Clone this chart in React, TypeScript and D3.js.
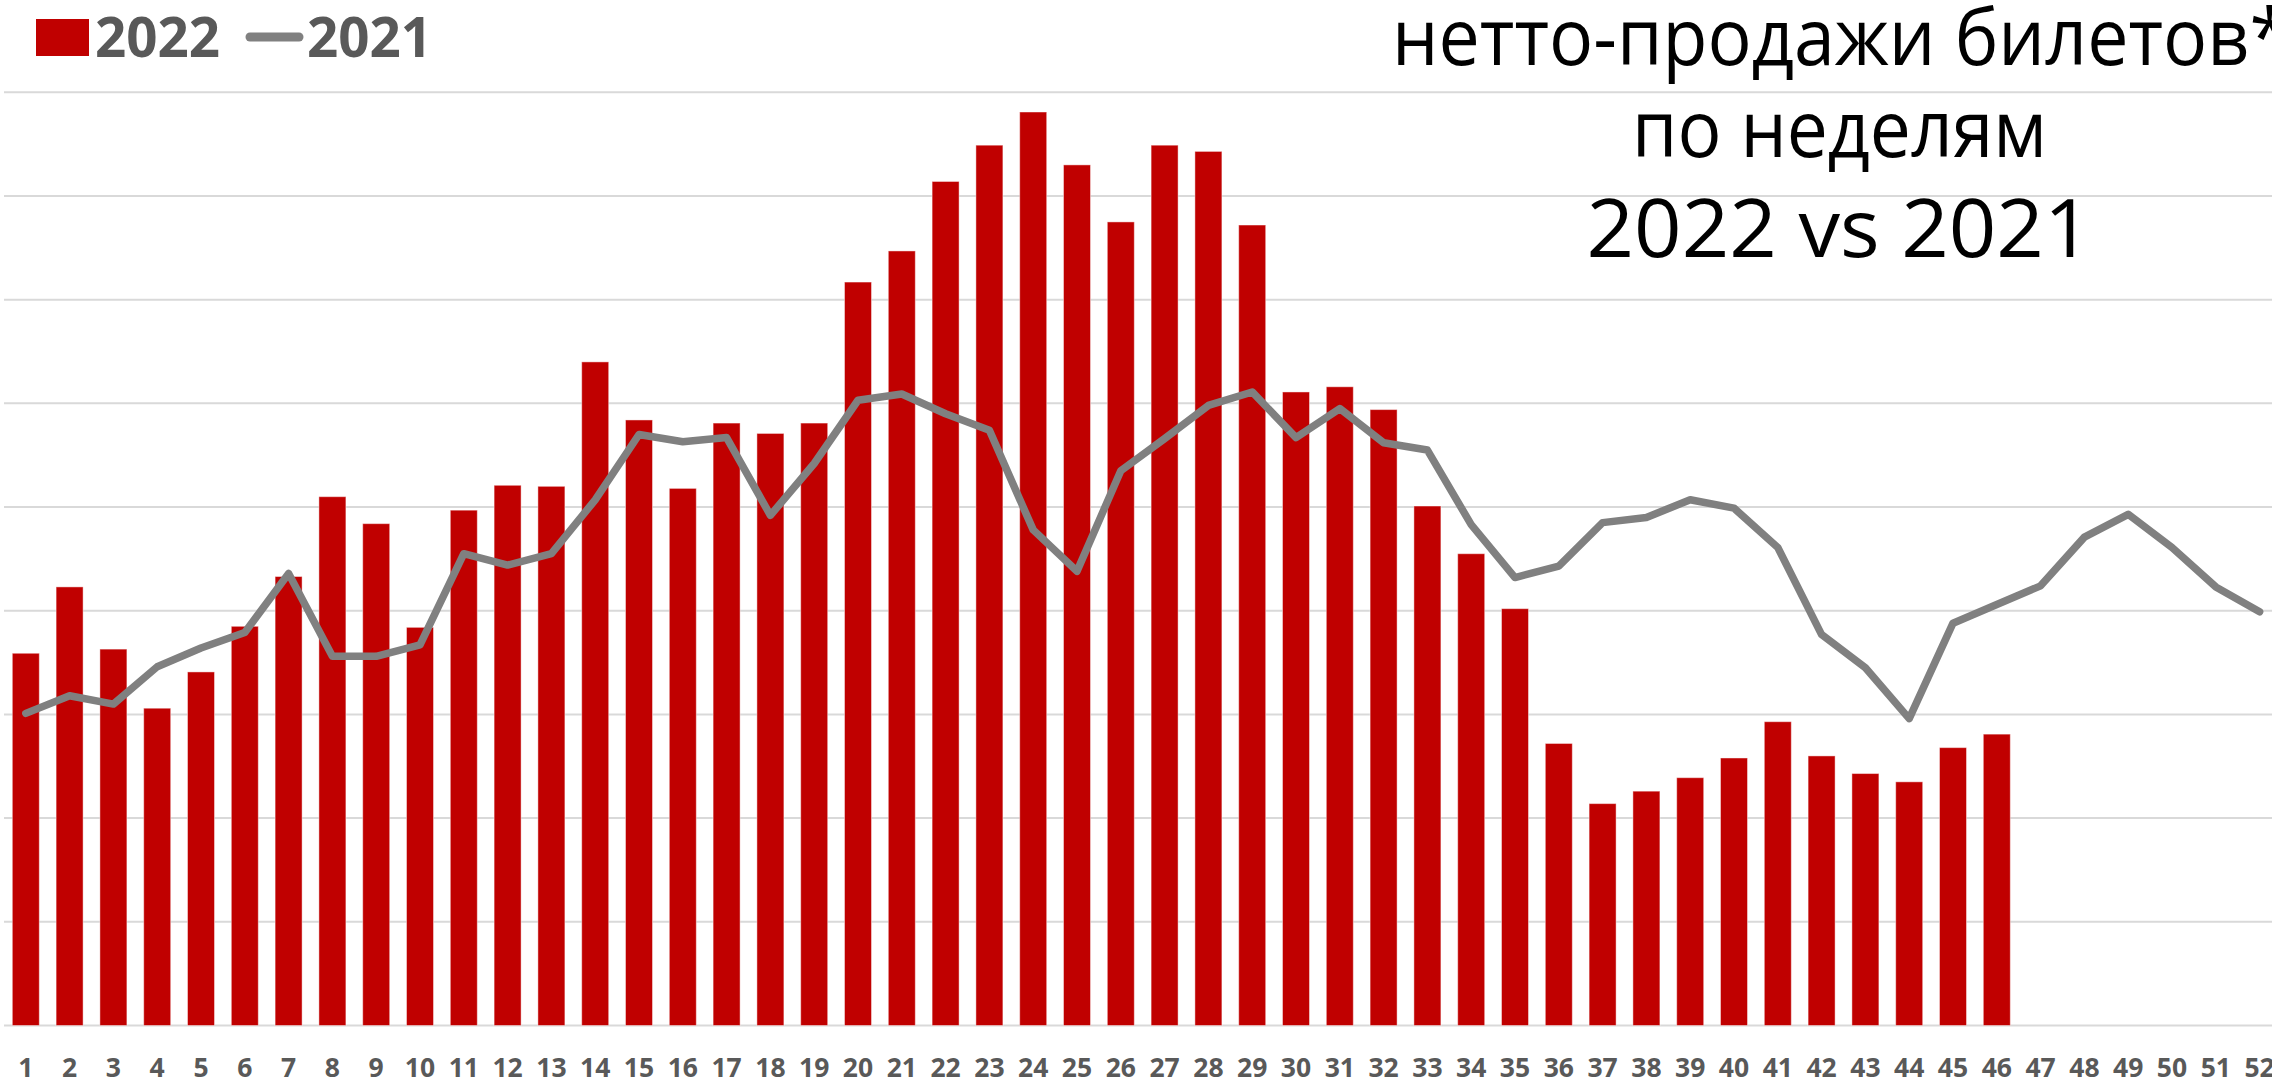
import React from "react";
import * as d3 from "d3";

const weeks: string[] = Array.from({ length: 52 }, (_, i) => String(i + 1));

// 2022 net ticket sales by week (bars); relative units (gridline = 10)
const sales2022: number[] = [
  35.9, 42.3, 36.3, 30.6, 34.1, 38.5, 43.3, 51.0, 48.4, 38.4,
  49.7, 52.1, 52.0, 64.0, 58.4, 51.8, 58.1, 57.1, 58.1, 71.7,
  74.7, 81.4, 84.9, 88.1, 83.0, 77.5, 84.9, 84.3, 77.2, 61.1,
  61.6, 59.4, 50.1, 45.5, 40.2, 27.2, 21.4, 22.6, 23.9, 25.8,
  29.3, 26.0, 24.3, 23.5, 26.8, 28.1,
];

// 2021 net ticket sales by week (line)
const sales2021: number[] = [
  30.1, 31.8, 31.0, 34.6, 36.4, 37.9, 43.6, 35.6, 35.6, 36.7,
  45.5, 44.4, 45.5, 50.7, 57.0, 56.3, 56.7, 49.2, 54.2, 60.3,
  60.9, 59.0, 57.4, 47.8, 43.8, 53.5, 56.6, 59.8, 61.1, 56.7,
  59.5, 56.2, 55.5, 48.3, 43.2, 44.3, 48.5, 49.0, 50.7, 49.9,
  46.1, 37.7, 34.5, 29.6, 38.8, 40.6, 42.4, 47.1, 49.3, 46.1,
  42.3, 39.9,
];

const yTicks: number[] = [0, 10, 20, 30, 40, 50, 60, 70, 80, 90];

const titleLines: string[] = ["нетто-продажи билетов*", "по неделям", "2022 vs 2021"];
const legendLabels: string[] = ["2022", "2021"];

const W = 2272;
const H = 1079;

export default function App() {
  const x = d3
    .scaleBand<string>()
    .domain(weeks)
    .range([3.9, 3.9 + 52 * 43.8])
    .paddingInner(0.3836)
    .paddingOuter(0.1918);

  const y = d3.scaleLinear().domain([0, 90]).range([1025.5, 92.3]);

  const line = d3
    .line<number>()
    .x((_, i) => (x(weeks[i]) as number) + x.bandwidth() / 2)
    .y((d) => y(d));

  const barColor = "#C00000";
  const lineColor = "#808080";
  const textGray = "#595959";

  const titleFont = "'Open Sans', 'Noto Sans', sans-serif";

  return (
    <svg
      width={W}
      height={H}
      style={{ position: "absolute", left: 0, top: 0, background: "#fff" }}
    >
      <rect x={0} y={0} width={W} height={H} fill="#fff" />
      {/* gridlines */}
      {yTicks.map((t) => (
        <line
          key={t}
          x1={4}
          x2={W}
          y1={y(t)}
          y2={y(t)}
          stroke="#D9D9D9"
          strokeWidth={2}
        />
      ))}
      {/* bars */}
      {sales2022.map((v, i) => (
        <rect
          key={i}
          x={x(weeks[i])}
          y={y(v)}
          width={x.bandwidth()}
          height={y(0) - y(v)}
          fill={barColor}
          stroke="#ffffff"
          strokeOpacity={0.45}
          strokeWidth={1}
        />
      ))}
      {/* 2021 line */}
      <path
        d={line(sales2021) || ""}
        fill="none"
        stroke={lineColor}
        strokeWidth={7.5}
        strokeLinejoin="round"
        strokeLinecap="round"
      />
      {/* x labels */}
      {weeks.map((w) => (
        <text
          key={w}
          x={(x(w) as number) + x.bandwidth() / 2}
          y={1076.5}
          textAnchor="middle"
          fontFamily={titleFont}
          fontWeight={700}
          fontSize={26.5}
          fill={textGray}
        >
          {w}
        </text>
      ))}
      {/* legend */}
      <rect x={36} y={19} width={53} height={37} fill={barColor} />
      <text
        x={95}
        y={56.5}
        fontFamily={titleFont}
        fontWeight={700}
        fontSize={55}
        fill={textGray}
        textLength={125}
        lengthAdjust="spacingAndGlyphs"
      >
        {legendLabels[0]}
      </text>
      <line
        x1={250}
        x2={299}
        y1={37}
        y2={37}
        stroke={lineColor}
        strokeWidth={9}
        strokeLinecap="round"
      />
      <text
        x={307}
        y={56.5}
        fontFamily={titleFont}
        fontWeight={700}
        fontSize={55}
        fill={textGray}
        textLength={125}
        lengthAdjust="spacingAndGlyphs"
      >
        {legendLabels[1]}
      </text>
      {/* title */}
      <text
        x={1841}
        y={65}
        textAnchor="middle"
        fontFamily={titleFont}
        fontSize={78}
        fill="#000"
        textLength={898}
        lengthAdjust="spacingAndGlyphs"
      >
        {titleLines[0]}
      </text>
      <text
        x={1839.5}
        y={156.7}
        textAnchor="middle"
        fontFamily={titleFont}
        fontSize={78}
        fill="#000"
        textLength={415}
        lengthAdjust="spacingAndGlyphs"
      >
        {titleLines[1]}
      </text>
      <text
        x={1839}
        y={256.7}
        textAnchor="middle"
        fontFamily={titleFont}
        fontSize={80}
        fill="#000"
        textLength={505}
        lengthAdjust="spacingAndGlyphs"
      >
        {titleLines[2]}
      </text>
    </svg>
  );
}
